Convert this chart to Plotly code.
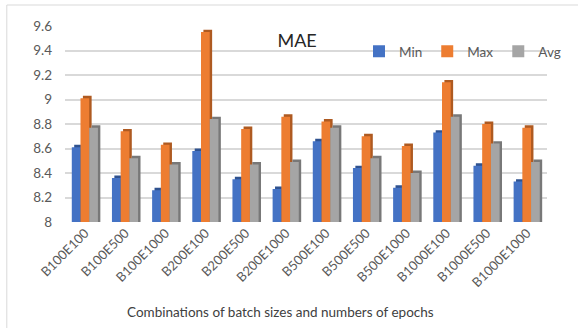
import plotly.graph_objects as go

# MAE results per batch-size / epoch combination
categories = ["B100E100", "B100E500", "B100E1000",
              "B200E100", "B200E500", "B200E1000",
              "B500E100", "B500E500", "B500E1000",
              "B1000E100", "B1000E500", "B1000E1000"]
mae_min = [8.61, 8.36, 8.26, 8.58, 8.35, 8.27, 8.66, 8.44, 8.28, 8.73, 8.46, 8.33]
mae_max = [9.01, 8.74, 8.63, 9.55, 8.76, 8.86, 8.82, 8.70, 8.62, 9.14, 8.80, 8.77]
mae_avg = [8.77, 8.52, 8.47, 8.84, 8.47, 8.49, 8.77, 8.52, 8.40, 8.86, 8.64, 8.49]
y_ticks = [8, 8.2, 8.4, 8.6, 8.8, 9, 9.2, 9.4, 9.6]
x_title = "Combinations of batch sizes and numbers of epochs"

series = [
    ("Min", mae_min, "#4472C4", "#2F528F"),
    ("Max", mae_max, "#ED7D31", "#AE5A21"),
    ("Avg", mae_avg, "#A5A5A5", "#787878"),
]

BAR_W = 0.217        # width of each front face, in category units
SIDE_DX = 0.06       # depth of the shaded side face (x, category units)
SIDE_DY = 0.02       # depth of the shaded side face (y, data units)
first_offset = -0.331

fig = go.Figure()
for i, (name, vals, face, shade) in enumerate(series):
    off = first_offset + i * BAR_W
    # darker block behind each bar gives a simple extruded look
    fig.add_trace(go.Bar(
        x=categories, y=[v + SIDE_DY for v in vals],
        offset=off + SIDE_DX, width=BAR_W,
        marker=dict(color=shade, line=dict(width=0)),
        showlegend=False, hoverinfo="skip",
    ))
    fig.add_trace(go.Bar(
        x=categories, y=vals, name=name,
        offset=off, width=BAR_W,
        marker=dict(color=face, line=dict(width=0)),
    ))

fig.update_layout(
    width=578, height=328,
    barmode="overlay",
    paper_bgcolor="white", plot_bgcolor="white",
    margin=dict(l=65, r=16, t=26, b=106),
    font=dict(family="Lato, 'Open Sans', sans-serif", color="#595959"),
    title=dict(text="MAE", x=0.514, xanchor="center", y=0.875, yanchor="middle",
               font=dict(size=18, color="#262626")),
    legend=dict(orientation="h", x=0.61, xanchor="left", y=0.87, yanchor="middle",
                font=dict(size=13.5, color="#595959"), bgcolor="rgba(0,0,0,0)",
                traceorder="normal", itemwidth=30),
    showlegend=True,
    annotations=[dict(text=x_title, xref="paper", yref="paper",
                      x=(287 - 65) / 497, xanchor="center",
                      y=-(312 - 222) / 196, yanchor="middle",
                      showarrow=False, font=dict(size=13.5, color="#404040"))],
    shapes=[dict(type="rect", xref="paper", yref="paper",
                 x0=-60 / 497, y0=-110 / 196, x1=1.2, y1=1 + 21 / 196,
                 line=dict(color="#D9D9D9", width=1), layer="below")],
)

fig.update_xaxes(
    type="category", categoryorder="array", categoryarray=categories,
    range=[-0.5, 11.5],
    tickangle=-45, tickfont=dict(size=13, color="#595959"),
    ticks="", showline=False, showgrid=False,
    automargin=False,
)
fig.update_yaxes(
    range=[8, 9.6], tickvals=y_ticks,
    ticktext=[f"{t:g}" for t in y_ticks],
    tickfont=dict(size=13.5, color="#595959"),
    showgrid=True, gridcolor="#D9D9D9", gridwidth=1.5,
    zeroline=False, showline=False, ticks="",
    ticklabelstandoff=12, automargin=False,
)

fig.write_html("out.html")
